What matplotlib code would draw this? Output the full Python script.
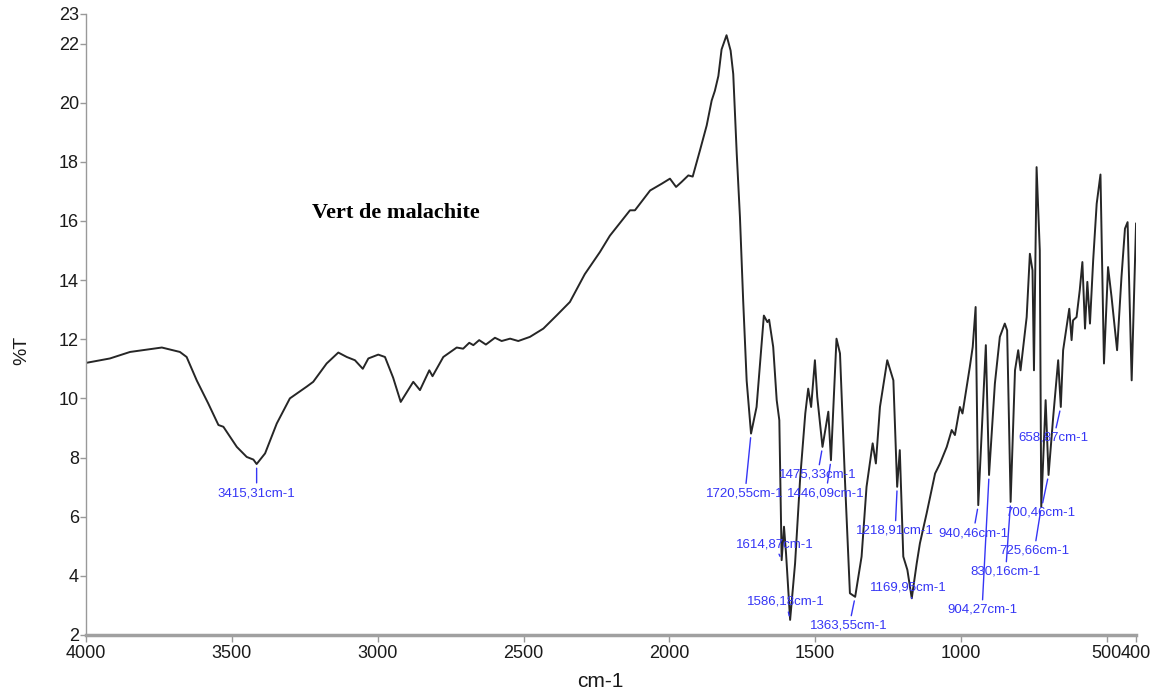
import numpy as np
import matplotlib
matplotlib.use('Agg')
from matplotlib import pyplot as plt

# spectrum (wavenumber cm-1, %T)
wavenumber = [4000, 3918, 3849, 3792, 3740, 3678, 3655, 3620, 3581, 3546, 3529, 3483, 3449, 3426,
              3415, 3386, 3346, 3301, 3243, 3221, 3175, 3135, 3106, 3078, 3051, 3032, 2998, 2975,
              2947, 2921, 2878, 2855, 2823, 2812, 2775, 2729, 2707, 2686, 2672, 2652, 2629, 2598,
              2575, 2546, 2518, 2478, 2432, 2386, 2341, 2290, 2238, 2204, 2135, 2118, 2066, 2026,
              1998, 1977, 1958, 1935, 1920, 1895, 1872, 1855, 1844, 1832, 1821, 1804, 1790, 1781,
              1769, 1758, 1747, 1735, 1720, 1701, 1676, 1664, 1658, 1644, 1632, 1623, 1615, 1607,
              1600, 1586, 1569, 1552, 1534, 1524, 1514, 1501, 1493, 1475, 1455, 1446, 1427, 1415,
              1398, 1381, 1363, 1341, 1324, 1303, 1292, 1278, 1253, 1232, 1219, 1210, 1198, 1184,
              1169, 1152, 1141, 1118, 1089, 1072, 1049, 1032, 1021, 1004, 995, 970, 960, 950,
              941, 915, 904, 884, 867, 850, 842, 830, 815, 804, 796, 775, 764, 755,
              750, 741, 730, 725, 710, 700, 684, 667, 658, 650, 629, 621, 616, 604,
              593, 584, 575, 567, 558, 547, 535, 522, 510, 496, 484, 465, 450, 438,
              429, 415, 400]
transmittance = [11.2, 11.35, 11.57, 11.65, 11.72, 11.57, 11.4, 10.6, 9.83, 9.1, 9.04, 8.36, 8.02, 7.93,
                 7.78, 8.14, 9.15, 10.0, 10.4, 10.56, 11.18, 11.55, 11.4, 11.29, 11.0, 11.35, 11.48, 11.4,
                 10.7, 9.88, 10.56, 10.28, 10.95, 10.75, 11.4, 11.72, 11.68, 11.88, 11.8, 11.97, 11.82, 12.05,
                 11.94, 12.02, 11.94, 12.08, 12.36, 12.81, 13.26, 14.2, 14.95, 15.5, 16.36, 16.36, 17.03, 17.26,
                 17.43, 17.15, 17.32, 17.54, 17.5, 18.39, 19.23, 20.07, 20.4, 20.9, 21.8, 22.28, 21.76, 20.97,
                 18.27, 16.13, 13.32, 10.6, 8.81, 9.71, 12.8, 12.58, 12.66, 11.74, 9.94, 9.26, 4.53, 5.66,
                 4.76, 2.51, 4.42, 7.24, 9.49, 10.33, 9.71, 11.29, 10.05, 8.36, 9.55, 7.91, 12.02, 11.52,
                 7.24, 3.41, 3.29, 4.65, 7.01, 8.48, 7.8, 9.71, 11.29, 10.61, 7.01, 8.25, 4.65, 4.2,
                 3.24, 4.42, 5.1, 6.11, 7.46, 7.8, 8.36, 8.93, 8.76, 9.71, 9.49, 11.06, 11.74, 13.09,
                 6.39, 11.8, 7.41, 10.5, 12.08, 12.53, 12.3, 6.5, 10.95, 11.63, 10.95, 12.75, 14.89, 14.33,
                 10.95, 17.82, 15.0, 6.33, 9.94, 7.41, 9.38, 11.29, 9.71, 11.63, 13.03, 11.97, 12.64, 12.75,
                 13.66, 14.61, 12.36, 13.94, 12.53, 14.67, 16.58, 17.57, 11.18, 14.44, 13.43, 11.63, 14.1, 15.74,
                 15.96, 10.61, 15.91]

# labelled bands
peak_wn = [3415.31, 1720.55, 1614.87, 1586.18, 1475.33, 1446.09, 1363.55, 1218.91,
           1169.95, 940.46, 904.27, 830.16, 725.66, 700.46, 658.87]
peak_labels = ['3415,31cm-1', '1720,55cm-1', '1614,87cm-1', '1586,18cm-1', '1475,33cm-1',
               '1446,09cm-1', '1363,55cm-1', '1218,91cm-1', '1169,95cm-1', '940,46cm-1',
               '904,27cm-1', '830,16cm-1', '725,66cm-1', '700,46cm-1', '658,87cm-1']
# text offsets from the band, in pixels
label_offsets = [(0, -29), (-6, -60), (-7, 16), (-4, 18), (-5, -28),
                 (-5, -33), (-6, -29), (-2, -44), (-3, 11), (-5, -28),
                 (-7, -135), (-5, -70), (-7, -44), (-8, -38), (-7, -31)]

xticks = [4000, 3500, 3000, 2500, 2000, 1500, 1000, 500, 400]
yticks = [2, 4, 6, 8, 10, 12, 14, 16, 18, 20, 22, 23]

plt.rcParams['font.family'] = ['Liberation Sans', 'DejaVu Sans']

fig = plt.figure(figsize=(11.59, 6.97), dpi=100)
ax = fig.add_axes([0.0742, 0.089, 0.906, 0.891])

ax.plot(wavenumber, transmittance, color='#262626', lw=1.4)

wn_arr = np.array(wavenumber, dtype=float)
t_arr = np.array(transmittance, dtype=float)
blue = '#3535f5'
for wn, lab, off in zip(peak_wn, peak_labels, label_offsets):
    i = int(np.argmin(np.abs(wn_arr - wn)))
    ax.annotate(lab, xy=(wn_arr[i], t_arr[i]), xytext=off, textcoords='offset pixels',
                ha='center', va='center', fontsize=9.5, color=blue,
                arrowprops=dict(arrowstyle='-', color=blue, lw=1, shrinkA=1, shrinkB=3))

ax.text(0.295, 0.68, 'Vert de malachite', transform=ax.transAxes, ha='center', va='center',
        fontsize=16, fontweight='bold', family=['Liberation Serif', 'DejaVu Serif'])

ax.set_xlim(4000, 400)
ax.set_ylim(2, 23)
ax.set_xticks(xticks)
ax.set_xticklabels([str(v) for v in xticks])
ax.set_yticks(yticks)
ax.set_yticklabels([str(v) for v in yticks])
ax.tick_params(axis='both', labelsize=13, colors='#999999', labelcolor='#1a1a1a')
ax.tick_params(axis='x', length=5, width=1, pad=2)
ax.tick_params(axis='y', length=4, width=1, pad=1)

for s in ('top', 'right'):
    ax.spines[s].set_visible(False)
ax.spines['left'].set_color('#999999')
ax.spines['left'].set_linewidth(1)
ax.spines['bottom'].set_color('#a0a0a0')
ax.spines['bottom'].set_linewidth(2.5)

ax.set_xlabel('cm-1', fontsize=15, color='#1a1a1a')
ax.set_ylabel('%T', fontsize=14, color='#1a1a1a')
ax.xaxis.set_label_coords(0.49, -0.06)
ax.yaxis.set_label_coords(-0.053, 0.459)

fig.savefig('out.png', dpi=100)
